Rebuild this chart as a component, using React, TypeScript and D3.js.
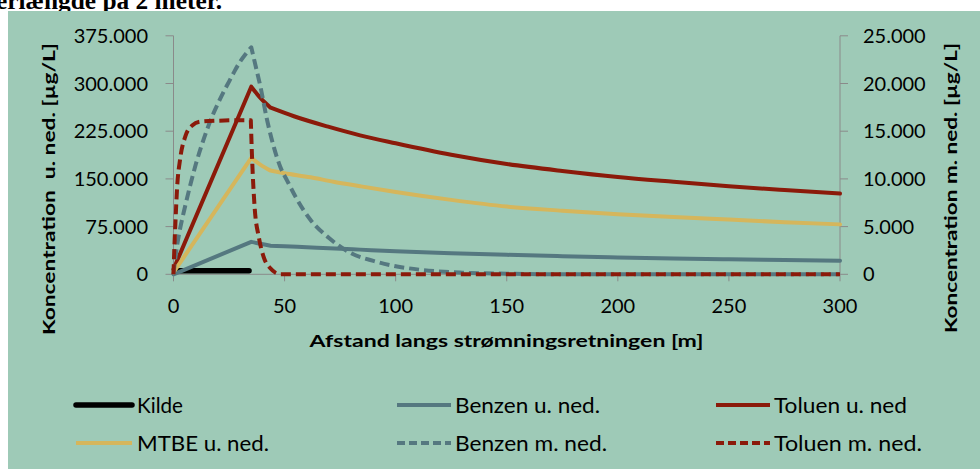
import React from "react";
import * as d3 from "d3";

// ---------- data ----------
const xTicks = [0, 50, 100, 150, 200, 250, 300];
const leftTicks = [0, 75000, 150000, 225000, 300000, 375000];
const rightTicks = [0, 5000, 10000, 15000, 20000, 25000];

const kildeX = [1.5, 34];
const kildeY = [5500, 5500];

const benzenUX = [0, 35, 39, 43.7, 50, 60, 70, 84, 100, 125, 150, 175, 200, 225, 250, 275, 300];
const benzenUY = [0, 51000, 48000, 45000, 44000, 42500, 41000, 38800, 36300, 33200, 30600, 28500, 26600, 25000, 23700, 22500, 21500];

const toluenUX = [0, 35, 39.2, 43.7, 54.2, 69.2, 84, 100, 125, 150, 175, 200, 225, 250, 275, 300];
const toluenUY = [8000, 295000, 277000, 262000, 248500, 232500, 218500, 206000, 188000, 173500, 162500, 153000, 145500, 138500, 132500, 127000];

const mtbeUX = [0, 35, 39.2, 43.7, 50, 61.7, 72, 84, 100, 125, 150, 175, 200, 225, 250, 275, 300];
const mtbeUY = [3000, 183000, 172000, 163000, 159000, 152500, 145500, 138500, 129500, 117000, 106500, 100000, 94500, 90000, 86000, 82000, 78500];

const benzenMX = [0, 1, 2.5, 5, 7.5, 10, 12.5, 15, 17.5, 20, 22.5, 25, 27.5, 30, 32.5, 35, 37, 39.2, 42, 45.2, 48, 51.2, 55, 61.7, 70, 80, 90, 100, 112, 130, 150, 170, 200, 250, 300];
const benzenMY = [0, 2000, 4200, 6900, 9300, 11500, 13400, 15100, 16600, 17900, 19100, 20200, 21300, 22300, 23100, 23800, 21800, 19600, 16300, 13300, 11300, 9800, 8100, 5700, 3800, 2200, 1400, 850, 450, 170, 60, 10, 0, 0, 0];

const toluenMX = [0, 0.3, 0.9, 1.6, 3, 5.4, 8.4, 12.2, 20, 30, 34.8, 35.3, 36.5, 38.4, 40.6, 43.7, 46, 48, 100, 200, 300];
const toluenMY = [0, 2200, 5600, 9000, 12100, 14500, 15600, 16000, 16100, 16150, 16150, 12600, 7100, 3900, 1800, 600, 150, 0, 0, 0, 0];

const legendNames = ["Kilde", "Benzen u. ned.", "Toluen u. ned", "MTBE u. ned.", "Benzen m. ned.", "Toluen m. ned."];

// ---------- styling ----------
const BG = "#9ECAB7";
const RED = "#8B1A0A";
const BLUE = "#557880";
const YEL = "#D5B65C";
const AXIS = "#8A8A8A";
const FONT = "Lato, 'Open Sans', sans-serif";

const fmt = (v: number) => {
  if (v === 0) return "0";
  const s = String(Math.round(v));
  return s.replace(/\B(?=(\d{3})+(?!\d))/g, ".");
};

export default function App() {
  const x = d3.scaleLinear().domain([0, 300]).range([173.5, 840]);
  const yL = d3.scaleLinear().domain([0, 375000]).range([274.3, 35.8]);
  const yR = d3.scaleLinear().domain([0, 25000]).range([274.3, 35.8]);

  // path made of monotone pieces joined at sharp break points
  const mk = (xs: number[], ys: number[], sc: d3.ScaleLinear<number, number>, breaks: number[]) => {
    const pts: [number, number][] = xs.map((v, i) => [x(v), sc(ys[i])]);
    const idx = [0, ...breaks, pts.length - 1];
    const gen = d3.line().curve(d3.curveMonotoneX);
    let d = "";
    for (let i = 0; i < idx.length - 1; i++) {
      const seg = pts.slice(idx[i], idx[i + 1] + 1);
      const p = gen(seg) || "";
      d += i === 0 ? p : p.replace(/^M/, "L");
    }
    return d;
  };

  const series = [
    { name: legendNames[0], xs: kildeX, ys: kildeY, scale: yL, br: [], color: "#000", w: 5.5, dash: "", cap: "round" },
    { name: legendNames[1], xs: benzenUX, ys: benzenUY, scale: yL, br: [1, 3], color: BLUE, w: 4, dash: "", cap: "round" },
    { name: legendNames[2], xs: toluenUX, ys: toluenUY, scale: yL, br: [1, 3], color: RED, w: 4, dash: "", cap: "round" },
    { name: legendNames[3], xs: mtbeUX, ys: mtbeUY, scale: yL, br: [1, 3], color: YEL, w: 4, dash: "", cap: "round" },
    { name: legendNames[4], xs: benzenMX, ys: benzenMY, scale: yR, br: [15], color: BLUE, w: 4, dash: "10,5", cap: "butt" },
    { name: legendNames[5], xs: toluenMX, ys: toluenMY, scale: yR, br: [10, 17], color: RED, w: 4, dash: "10,5", cap: "butt" },
  ];

  const legCols = [
    { lx: [76, 132], tx: 137 },
    { lx: [397, 451], tx: 455 },
    { lx: [716, 770], tx: 774 },
  ];
  const legRows = [405, 443];
  const legWidths = [46, 145, 133, 132, 152, 148];

  return (
    <svg
      width={980}
      height={469}
      style={{ position: "absolute", left: 0, top: 0, background: "#fff" }}
      fontFamily={FONT}
    >
      <text
        x={-4}
        y={9}
        fontFamily="'Liberation Serif', 'DejaVu Serif', serif"
        fontWeight="bold"
        fontSize={25}
        fill="#000"
        textLength={226}
        lengthAdjust="spacingAndGlyphs"
      >
        erlængde på 2 meter.
      </text>
      <rect x={8} y={11} width={980} height={470} fill={BG} />

      {/* axes */}
      <line x1={x(0)} x2={x(0)} y1={yL(375000)} y2={yL(0)} stroke={AXIS} strokeWidth={1} />
      <line x1={x(300)} x2={x(300)} y1={yR(25000)} y2={yR(0)} stroke={AXIS} strokeWidth={1} />
      <line x1={x(0)} x2={x(300)} y1={yL(0)} y2={yL(0)} stroke={AXIS} strokeWidth={1} />

      {leftTicks.map((t) => (
        <g key={"l" + t}>
          <line x1={x(0) - 8} x2={x(0)} y1={yL(t)} y2={yL(t)} stroke={AXIS} />
          <text x={148} y={yL(t) + 7} textAnchor="end" fontSize={20} fill="#000">
            {fmt(t)}
          </text>
        </g>
      ))}
      {rightTicks.map((t) => (
        <g key={"r" + t}>
          <line x1={x(300)} x2={x(300) + 8} y1={yR(t)} y2={yR(t)} stroke={AXIS} />
          <text x={863} y={yR(t) + 7} textAnchor="start" fontSize={20} fill="#000">
            {fmt(t)}
          </text>
        </g>
      ))}
      {xTicks.map((t) => (
        <g key={"x" + t}>
          <line x1={x(t)} x2={x(t)} y1={yL(0)} y2={yL(0) + 7} stroke={AXIS} />
          <text x={x(t)} y={313} textAnchor="middle" fontSize={20} fill="#000">
            {t}
          </text>
        </g>
      ))}

      {/* titles */}
      <text
        x={506.5}
        y={347}
        textAnchor="middle"
        fontWeight="bold"
        fontSize={17}
        fill="#000"
        textLength={394}
        lengthAdjust="spacingAndGlyphs"
      >
        Afstand langs strømningsretningen [m]
      </text>
      <text
        transform="translate(55,189) rotate(-90)"
        textAnchor="middle"
        fontWeight="bold"
        fontSize={17}
        fill="#000"
        textLength={292}
        lengthAdjust="spacingAndGlyphs"
        style={{ whiteSpace: "pre" }}
      >
        {"Koncentration  u. ned. [µg/L]"}
      </text>
      <text
        transform="translate(957,188) rotate(-90)"
        textAnchor="middle"
        fontWeight="bold"
        fontSize={17}
        fill="#000"
        textLength={290}
        lengthAdjust="spacingAndGlyphs"
      >
        Koncentration m. ned. [µg/L]
      </text>

      {/* series */}
      {series.map((s) => (
        <path
          key={s.name}
          d={mk(s.xs, s.ys, s.scale, s.br)}
          fill="none"
          stroke={s.color}
          strokeWidth={s.w}
          strokeDasharray={s.dash || undefined}
          strokeLinecap={s.cap as any}
          strokeLinejoin="round"
        />
      ))}

      {/* legend */}
      {series.map((s, i) => {
        const col = legCols[i % 3];
        const ry = legRows[Math.floor(i / 3)];
        return (
          <g key={"leg" + i}>
            <line
              x1={col.lx[0]}
              x2={col.lx[1]}
              y1={ry}
              y2={ry}
              stroke={s.color}
              strokeWidth={s.w}
              strokeDasharray={s.dash ? "8,4" : undefined}
              strokeLinecap={i === 0 ? "round" : "butt"}
            />
            <text
              x={col.tx}
              y={ry + 8}
              fontSize={21}
              fill="#000"
              textLength={legWidths[i]}
              lengthAdjust="spacingAndGlyphs"
            >
              {s.name}
            </text>
          </g>
        );
      })}
    </svg>
  );
}
